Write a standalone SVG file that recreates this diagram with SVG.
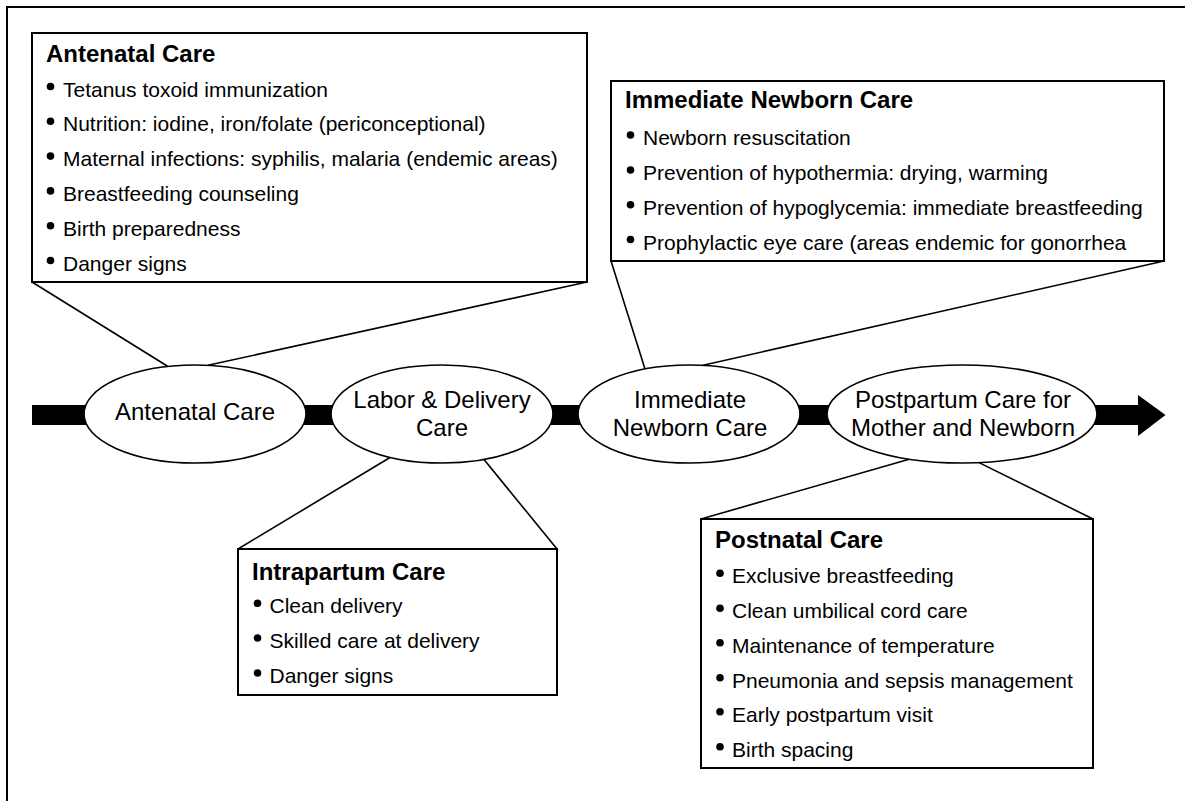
<svg xmlns="http://www.w3.org/2000/svg" width="1185" height="801" viewBox="0 0 1185 801">
  <style>
    .box { fill: #ffffff; stroke: #000000; stroke-width: 2; }
    .ell { fill: #ffffff; stroke: #000000; stroke-width: 1.6; }
    .conn { stroke: #000000; stroke-width: 1.6; fill: none; }
    .frame { stroke: #000000; stroke-width: 2; fill: none; }
    .title { font-family: "Liberation Sans", Arial, sans-serif; font-weight: bold; font-size: 24px; fill: #000000; }
    .item { font-family: "Liberation Sans", Arial, sans-serif; font-size: 21px; fill: #000000; }
    .elabel { font-family: "Liberation Sans", Arial, sans-serif; font-size: 24px; fill: #000000; text-anchor: middle; }
    .dot { fill: #000000; }
  </style>

  <rect x="0" y="0" width="1185" height="801" fill="#ffffff"/>
  <path class="frame" d="M7,801 V7 H1185"/>

  <g id="timeline-arrow">
    <rect x="32" y="405" width="1107" height="20" fill="#000000"/>
    <polygon points="1138,395 1165.5,415 1138,436" fill="#000000"/>
  </g>

  <g id="connectors">
    <line class="conn" x1="32" y1="282" x2="168" y2="366.5"/>
    <line class="conn" x1="587" y1="282" x2="208" y2="365.3"/>
    <line class="conn" x1="238" y1="549" x2="390" y2="457.5"/>
    <line class="conn" x1="557" y1="549" x2="484" y2="459.5"/>
    <line class="conn" x1="611" y1="261" x2="645" y2="369"/>
    <line class="conn" x1="1164" y1="261" x2="702" y2="365.5"/>
    <line class="conn" x1="701" y1="519" x2="910" y2="459"/>
    <line class="conn" x1="1093" y1="519" x2="979" y2="462.6"/>
  </g>

  <g id="node-antenatal">
    <ellipse class="ell" cx="195" cy="414" rx="111" ry="49"/>
    <text class="elabel" x="195" y="420">Antenatal Care</text>
  </g>

  <g id="node-labor">
    <ellipse class="ell" cx="442" cy="414" rx="111" ry="49"/>
    <text class="elabel" x="442" y="408">Labor &amp; Delivery</text>
    <text class="elabel" x="442" y="436">Care</text>
  </g>

  <g id="node-newborn">
    <ellipse class="ell" cx="689" cy="414" rx="111" ry="49"/>
    <text class="elabel" x="690" y="408">Immediate</text>
    <text class="elabel" x="690" y="436">Newborn Care</text>
  </g>

  <g id="node-postpartum">
    <ellipse class="ell" cx="962" cy="414" rx="135" ry="49"/>
    <text class="elabel" x="963" y="408">Postpartum Care for</text>
    <text class="elabel" x="963" y="436">Mother and Newborn</text>
  </g>

  <g id="box-antenatal">
    <rect class="box" x="32" y="33" width="555" height="249"/>
    <text class="title" x="46" y="62">Antenatal Care</text>
    <circle class="dot" cx="50.5" cy="86.5" r="3.8"/>
    <text class="item" x="63" y="96.5">Tetanus toxoid immunization</text>
    <circle class="dot" cx="50.5" cy="121.3" r="3.8"/>
    <text class="item" x="63" y="131.3">Nutrition: iodine, iron/folate (periconceptional)</text>
    <circle class="dot" cx="50.5" cy="156.1" r="3.8"/>
    <text class="item" x="63" y="166.1">Maternal infections: syphilis, malaria (endemic areas)</text>
    <circle class="dot" cx="50.5" cy="190.9" r="3.8"/>
    <text class="item" x="63" y="200.9">Breastfeeding counseling</text>
    <circle class="dot" cx="50.5" cy="225.7" r="3.8"/>
    <text class="item" x="63" y="235.7">Birth preparedness</text>
    <circle class="dot" cx="50.5" cy="260.5" r="3.8"/>
    <text class="item" x="63" y="270.5">Danger signs</text>
  </g>

  <g id="box-newborn">
    <rect class="box" x="611" y="81" width="553" height="180"/>
    <text class="title" x="625" y="108.3">Immediate Newborn Care</text>
    <circle class="dot" cx="630.5" cy="135" r="3.8"/>
    <text class="item" x="643" y="145">Newborn resuscitation</text>
    <circle class="dot" cx="630.5" cy="170" r="3.8"/>
    <text class="item" x="643" y="180">Prevention of hypothermia: drying, warming</text>
    <circle class="dot" cx="630.5" cy="204.7" r="3.8"/>
    <text class="item" x="643" y="214.7">Prevention of hypoglycemia: immediate breastfeeding</text>
    <circle class="dot" cx="630.5" cy="239.5" r="3.8"/>
    <text class="item" x="643" y="249.5">Prophylactic eye care (areas endemic for gonorrhea</text>
  </g>

  <g id="box-intrapartum">
    <rect class="box" x="238" y="549" width="319" height="146"/>
    <text class="title" x="252" y="580">Intrapartum Care</text>
    <circle class="dot" cx="257.5" cy="603.3" r="3.8"/>
    <text class="item" x="269.5" y="613.3">Clean delivery</text>
    <circle class="dot" cx="257.5" cy="638" r="3.8"/>
    <text class="item" x="269.5" y="648">Skilled care at delivery</text>
    <circle class="dot" cx="257.5" cy="673" r="3.8"/>
    <text class="item" x="269.5" y="683">Danger signs</text>
  </g>

  <g id="box-postnatal">
    <rect class="box" x="701" y="519" width="392" height="249"/>
    <text class="title" x="715" y="548.3">Postnatal Care</text>
    <circle class="dot" cx="720" cy="573.3" r="3.8"/>
    <text class="item" x="732" y="583.3">Exclusive breastfeeding</text>
    <circle class="dot" cx="720" cy="608.3" r="3.8"/>
    <text class="item" x="732" y="618.3">Clean umbilical cord care</text>
    <circle class="dot" cx="720" cy="642.7" r="3.8"/>
    <text class="item" x="732" y="652.7">Maintenance of temperature</text>
    <circle class="dot" cx="720" cy="677.7" r="3.8"/>
    <text class="item" x="732" y="687.7">Pneumonia and sepsis management</text>
    <circle class="dot" cx="720" cy="711.7" r="3.8"/>
    <text class="item" x="732" y="721.7">Early postpartum visit</text>
    <circle class="dot" cx="720" cy="746.7" r="3.8"/>
    <text class="item" x="732" y="756.7">Birth spacing</text>
  </g>
</svg>
